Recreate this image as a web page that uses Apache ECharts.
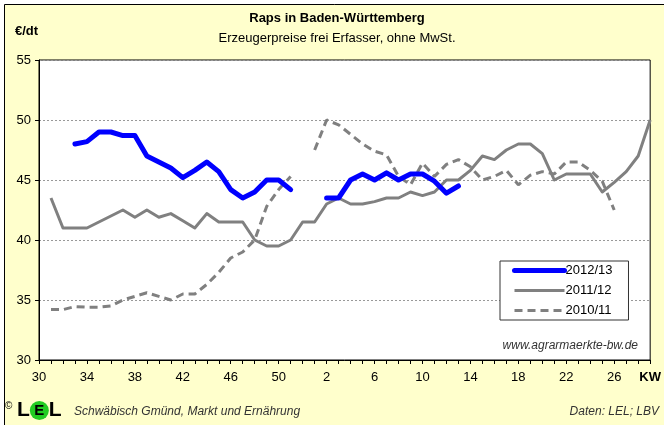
<!DOCTYPE html>
<html>
<head>
<meta charset="utf-8">
<script src="https://cdn.jsdelivr.net/npm/echarts@6/dist/echarts.min.js"></script>
<style>
html,body{margin:0;padding:0;background:#fff;}
#c{width:664px;height:425px;}
</style>
</head>
<body>
<div id="c"></div>
<script>
// Calendar weeks (KW) 30..52, 1..29
const weeks = ['30','31','32','33','34','35','36','37','38','39','40','41','42','43','44','45','46','47','48','49','50','51','52',
  '1','2','3','4','5','6','7','8','9','10','11','12','13','14','15','16','17','18','19','20','21','22','23','24','25','26','27','28','29'];

const seriesNames = ['2012/13', '2011/12', '2010/11'];

const s2012 = [null,null,null,48.0,48.2,49.0,49.0,48.7,48.7,47.0,46.5,46.0,45.2,45.8,46.5,45.7,44.2,43.5,44.0,45.0,45.0,44.2,null,
  null,43.5,43.5,45.0,45.5,45.0,45.6,45.0,45.5,45.5,44.9,43.9,44.5,null,null,null,null,null,null,null,null,null,null,null,null,null,null,null,null];

const s2011 = [null,43.5,41.0,41.0,41.0,41.5,42.0,42.5,41.9,42.5,41.9,42.2,41.6,41.0,42.2,41.5,41.5,41.5,40.0,39.5,39.5,40.0,41.5,
  41.5,43.0,43.5,43.0,43.0,43.2,43.5,43.5,44.0,43.7,44.0,45.0,45.0,45.8,47.0,46.7,47.5,48.0,48.0,47.2,45.0,45.5,45.5,45.5,44.0,44.8,45.7,47.0,50.0];

const s2010 = [null,34.2,34.2,34.45,34.4,34.4,34.5,35.0,35.3,35.6,35.3,35.0,35.5,35.5,36.3,37.3,38.5,39.0,40.0,42.8,44.2,45.3,null,
  47.5,50.0,49.6,48.8,48.0,47.4,47.1,45.3,44.6,46.4,45.3,46.3,46.7,46.1,45.0,45.3,45.8,44.6,45.4,45.7,45.5,46.5,46.5,45.8,44.9,42.5,null,null,null];

const yTicks = [30, 35, 40, 45, 50, 55];

const FONT = 'Arial, "Liberation Sans", sans-serif';
const chart = echarts.init(document.getElementById('c'), null, {renderer: 'canvas'});

chart.setOption({
  backgroundColor: '#fff',
  animation: false,
  textStyle: {fontFamily: FONT},
  grid: {left: 39, right: 13, top: 60, bottom: 65, show: true, backgroundColor: '#fff', borderColor: '#000', borderWidth: 1},
  xAxis: {
    type: 'category',
    data: weeks,
    boundaryGap: false,
    axisLine: {lineStyle: {color: '#000', width: 1}},
    axisTick: {show: true, interval: 0, length: 4, lineStyle: {color: '#000'}},
    axisLabel: {
      interval: function (i) { return i % 4 === 0 || i === weeks.length - 1; },
      formatter: function (v, i) { return i === weeks.length - 1 ? '{b|KW}' : v; },
      color: '#000', fontSize: 13, fontFamily: FONT, margin: 11,
      rich: {b: {fontWeight: 'bold', fontSize: 13, fontFamily: FONT, color: '#000'}}
    },
    splitLine: {show: false}
  },
  yAxis: {
    type: 'value',
    min: yTicks[0], max: yTicks[yTicks.length - 1], interval: 5,
    axisLine: {show: true, lineStyle: {color: '#000', width: 1}},
    axisTick: {show: true, length: 4, lineStyle: {color: '#000'}},
    axisLabel: {color: '#000', fontSize: 13, fontFamily: FONT, margin: 8},
    splitLine: {show: true, lineStyle: {color: '#999', type: [2, 2], width: 1}}
  },
  legend: {
    orient: 'vertical',
    left: 500, top: 261,
    itemWidth: 50, itemHeight: 14, itemGap: 7,
    padding: [3, 16, 3, 12],
    borderColor: '#333', borderWidth: 1, backgroundColor: '#fff',
    itemStyle: {opacity: 0},
    textStyle: {fontSize: 13, color: '#000', fontFamily: FONT, padding: [0, 0, 0, -4]},
    data: [
      {name: seriesNames[0], lineStyle: {width: 5, color: '#0000ff', cap: 'round'}},
      {name: seriesNames[1], lineStyle: {width: 3, color: '#808080'}},
      {name: seriesNames[2], lineStyle: {width: 3, color: '#808080', type: [8, 5]}}
    ]
  },
  series: [
    {name: seriesNames[0], type: 'line', data: s2012, symbol: 'none', z: 5,
      lineStyle: {color: '#0000ff', width: 5, cap: 'round', join: 'round'}, itemStyle: {color: '#0000ff'}},
    {name: seriesNames[1], type: 'line', data: s2011, symbol: 'none', z: 4,
      lineStyle: {color: '#808080', width: 3, join: 'round'}, itemStyle: {color: '#808080'}},
    {name: seriesNames[2], type: 'line', data: s2010, symbol: 'none', z: 3,
      lineStyle: {color: '#808080', width: 3, type: [8, 5]}, itemStyle: {color: '#808080'}}
  ],
  graphic: [
    {type: 'rect', z: -10, silent: true, shape: {x: 4.5, y: 4.5, width: 700, height: 500},
      style: {fill: '#ffffcc', stroke: '#000', lineWidth: 1}},
    {type: 'text', x: 337, y: 12, style: {text: 'Raps in Baden-Württemberg', font: 'bold 13px ' + FONT, fill: '#000', textAlign: 'center'}},
    {type: 'text', x: 337, y: 32, style: {text: 'Erzeugerpreise frei Erfasser, ohne MwSt.', font: '13px ' + FONT, fill: '#000', textAlign: 'center'}},
    {type: 'text', x: 15, y: 25, style: {text: '€/dt', font: 'bold 13px ' + FONT, fill: '#000'}},
    {type: 'text', x: 638, y: 340, z: 10, style: {text: 'www.agrarmaerkte-bw.de', font: 'italic 12px ' + FONT, fill: '#333', textAlign: 'right'}},
    {type: 'text', x: 5, y: 401, style: {text: '©', font: '10px ' + FONT, fill: '#000'}},
    {type: 'text', x: 17, y: 400, style: {
      text: '{l|L}{e|E}{l|L}',
      rich: {
        l: {font: 'bold 21px ' + FONT, fill: '#000'},
        e: {font: 'bold 15px ' + FONT, fill: '#000', backgroundColor: '#22cc22', borderRadius: 10, width: 19, height: 19, align: 'center', padding: [0, 0, 0, 0]}
      }}},
    {type: 'text', x: 74, y: 406, style: {text: 'Schwäbisch Gmünd, Markt und Ernährung', font: 'italic 12px ' + FONT, fill: '#333'}},
    {type: 'text', x: 659, y: 406, style: {text: 'Daten: LEL; LBV', font: 'italic 12px ' + FONT, fill: '#333', textAlign: 'right'}}
  ]
});
</script>
</body>
</html>
